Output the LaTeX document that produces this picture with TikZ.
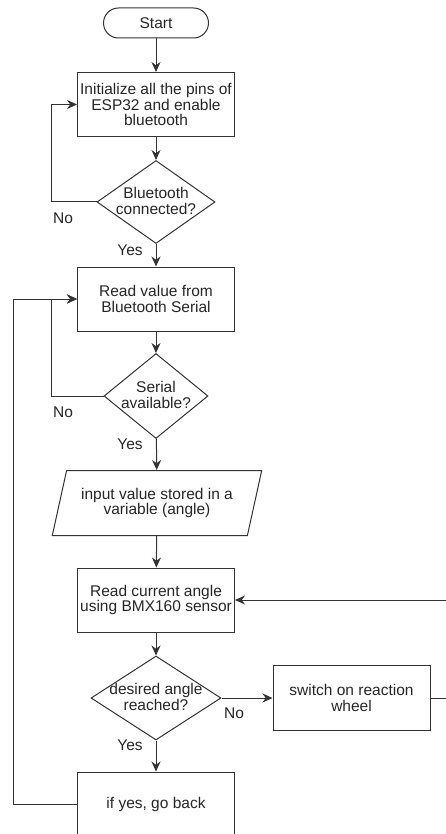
\documentclass[tikz,border=0pt]{standalone}
\usepackage{fontspec}
\setmainfont{Liberation Sans}
\usetikzlibrary{shapes.geometric,arrows.meta}
\colorlet{linecol}{black!80}
% text of a decision shape, kept from growing the shape
\newcommand{\dtext}[1]{\makebox[0pt]{\smash{\raisebox{-5pt}{\begin{tabular}{@{}c@{}}#1\end{tabular}}}}}
\tikzset{
  every node/.style={font=\fontsize{15.5}{15.3}\selectfont,text=black!85},
  term/.style={draw=linecol,line width=1pt,rectangle,rounded corners=15pt,minimum width=105pt,minimum height=30pt},
  proc/.style={draw=linecol,line width=1pt,rectangle,minimum width=157pt,minimum height=64pt,inner sep=1pt,align=center},
  decide/.style={draw=linecol,line width=1pt,diamond,inner sep=0pt},
  inout/.style={draw=linecol,line width=1pt,trapezium,trapezium left angle=68,trapezium right angle=112,trapezium stretches=true,inner sep=0pt,align=center,minimum width=210pt,minimum height=65pt},
  flow/.style={draw=linecol,line width=1pt,-{Stealth[length=10pt,width=9pt]}},
  link/.style={draw=linecol,line width=1pt}
}
\begin{document}
\begin{tikzpicture}[x=1pt,y=-1pt]
    \useasboundingbox (0,0) rectangle (445,834);
    % main column
    \node[term] (start) at (156,23) {Start};
    \node[proc] (init) at (156,104.5) {Initialize all the pins of\\ESP32 and enable\\bluetooth};
    \node[decide,minimum width=118pt,minimum height=83pt] (btcon) at (156,202) {\dtext{Bluetooth\\connected?}};
    \node[proc] (readbt) at (156,299) {Read value from\\Bluetooth Serial};
    \node[decide,minimum width=104pt,minimum height=85pt] (seravail) at (156,396) {\dtext{Serial\\available?}};
    \node[inout] (store) at (157,503) {input value stored in a\\variable (angle)};
    \node[proc] (readang) at (156,600) {Read current angle\\using BMX160 sensor};
    \node[decide,minimum width=130pt,minimum height=84pt] (reached) at (156,698) {\dtext{desired angle\\reached?}};
    \node[proc,minimum height=65pt] (wheel) at (351.5,698) {switch on reaction\\wheel};
    \node[proc] (goback) at (156,804) {if yes, go back};
    % branch labels
    \node (no1) at (63,218) {No};
    \node (yes1) at (130,250) {Yes};
    \node (no2) at (63,412) {No};
    \node (yes2) at (130,444) {Yes};
    \node (no3) at (234,713) {No};
    \node (yes3) at (130,745) {Yes};
    % corners of the return lines
    \coordinate (rside) at (452,698);
    \coordinate (lside) at (13,804);
    % connectors
    \draw[flow] (start) -- (init);
    \draw[flow] (init) -- (btcon);
    \draw[flow] (btcon) -- (readbt);
    \draw[flow] (btcon.west) -- ++(-45,0) |- (init.west);
    \draw[flow] (readbt) -- (seravail);
    \draw[flow] (seravail.west) -- ++(-52,0) |- (readbt.west);
    \draw[flow] (seravail) -- (store);
    \draw[flow] (store) -- (readang);
    \draw[flow] (readang) -- (reached);
    \draw[flow] (reached) -- (wheel);
    \draw[flow] (reached) -- (goback);
    \draw[flow] (wheel) -- (rside) |- (readang);
    \draw[flow] (goback) -- (lside) |- (readbt);
\end{tikzpicture}
\end{document}
